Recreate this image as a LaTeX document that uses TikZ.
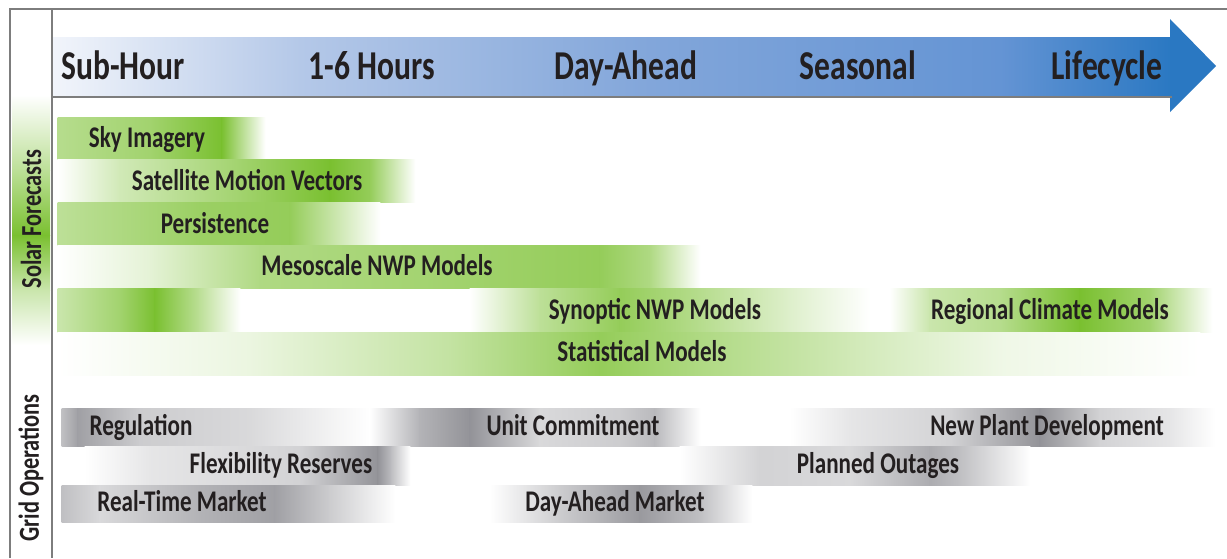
\documentclass[tikz,border=0pt]{standalone}
\usepackage{fontspec}
\newfontfamily\cf[FakeStretch=0.77]{Carlito}
\definecolor{G}{RGB}{122,192,48}
\definecolor{K}{RGB}{128,128,134}
\definecolor{txt}{RGB}{35,31,32}
\definecolor{frame}{RGB}{125,125,125}
\definecolor{B0}{RGB}{242,245,251}
\definecolor{B1}{RGB}{180,200,232}
\definecolor{B2}{RGB}{130,166,218}
\definecolor{B3}{RGB}{100,148,212}
\definecolor{B4}{RGB}{42,120,194}
\newcommand\gbar[3]{\foreach \x/\c [count=\i, remember=\x as \px, remember=\c as \pc] in {#3}{\ifnum\i>1 \shade[left color=\pc,right color=\c] (\px-0.4,#1) rectangle (\x+0.4,#2);\fi}}
\begin{document}
\begin{tikzpicture}[x=1pt,y=-1pt,
  lab/.style={font=\cf\bfseries\fontsize{30}{30}\selectfont, text=txt, inner sep=0pt, anchor=base},
  head/.style={font=\cf\bfseries\fontsize{41}{41}\selectfont, text=txt, inner sep=0pt, anchor=base},
  side/.style={font=\cf\bfseries\fontsize{29}{29}\selectfont, text=txt, inner sep=0pt, rotate=90},
  frameline/.style={draw=frame, line width=1.8pt}]
\useasboundingbox (0,0) rectangle (1227,558);
\fill[white] (0,0) rectangle (1227,558);
% left column green
\shade[top color=white, bottom color=G!50] (12,95) rectangle (50,170.4);
\shade[top color=G!50, bottom color=G] (12,170) rectangle (50,235.4);
\shade[top color=G, bottom color=G!40] (12,235) rectangle (50,290.4);
\shade[top color=G!40, bottom color=white] (12,290) rectangle (50,345);
% arrow
\gbar{37}{96}{52/B0, 300/B1, 650/B2, 1000/B3, 1172/B4}
\fill[B4] (1170,19) -- (1216,66) -- (1170,112) -- cycle;
% solar forecast bars
\gbar{117}{159}{58/G!55, 150/G!70, 222/G, 265/white}
\gbar{159}{202}{58/white, 120/G!35, 240/G!70, 330/G, 370/G!80, 415/white}
\gbar{202}{245}{58/G!50, 200/G!75, 290/G!80, 380/white}
\gbar{245}{288}{58/white, 150/G!20, 260/G!60, 450/G!70, 600/G!80, 650/G!60, 700/white}
\gbar{288}{332}{58/G!40, 120/G!70, 155/G, 200/G!50, 240/white}
\gbar{288}{332}{470/white, 540/G!50, 620/G!80, 700/G!55, 790/G!25, 870/white}
\gbar{288}{332}{890/white, 930/G!40, 1000/G!55, 1080/G, 1150/G!70, 1212/white}
\gbar{332}{375}{58/white, 250/G!15, 450/G!45, 600/G!80, 700/G!60, 850/G!35, 1000/G!12, 1200/white}
% grid operation bars
\gbar{408}{446}{62/K!50, 78/K!75, 140/K!40, 250/K!30, 330/K!10, 370/white, 420/K!60, 470/K!85, 540/K!30, 620/K!40, 655/K!55, 700/white}
\gbar{408}{446}{790/white, 850/K!20, 950/K!35, 1040/K!85, 1100/K!35, 1170/K!20, 1215/white}
\gbar{446}{485}{85/white, 150/K!20, 300/K!35, 378/K!85, 392/K!50, 410/white}
\gbar{446}{485}{680/white, 760/K!35, 850/K!30, 930/K!65, 960/K!50, 1030/white}
\gbar{485}{522}{62/K!50, 100/K!30, 200/K!60, 275/K!75, 330/K!40, 395/white}
\gbar{485}{522}{490/white, 560/K!40, 640/K!80, 700/K!50, 752/white}
% frame
\coordinate (tl) at (10,9);
\coordinate (tr) at (1227,9);
\coordinate (bl) at (10,558);
\coordinate (ct) at (52,9);
\coordinate (cb) at (52,558);
\coordinate (hl) at (52,97);
\coordinate (hr) at (1172,97);
\draw[frameline] (bl) -- (tl) -- (tr);
\draw[frameline] (ct) -- (cb);
\draw[draw=frame, line width=2.5pt] (hl) -- (hr);
% header labels
\node[head] (h1) at (123,79) {Sub-Hour};
\node[head] (h2) at (372,79) {1-6 Hours};
\node[head] (h3) at (626,79) {Day-Ahead};
\node[head] (h4) at (858,79) {Seasonal};
\node[head] (h5) at (1107,79) {Lifecycle};
% side labels
\node[side] (s1) at (31,219) {Solar Forecasts};
\node[side] (s2) at (31,468) {Grid Operations};
% bar labels
\node[lab] (b1) at (147,147) {Sky Imagery};
\node[lab] (b2) at (247,190) {Satellite Motion Vectors};
\node[lab] (b3) at (215,233) {Persistence};
\node[lab] (b4) at (377,275) {Mesoscale NWP Models};
\node[lab] (b5) at (655,319) {Synoptic NWP Models};
\node[lab] (b6) at (1050,319) {Regional Climate Models};
\node[lab] (b7) at (642,361) {Statistical Models};
\node[lab] (g1) at (141,435) {Regulation};
\node[lab] (g2) at (573,435) {Unit Commitment};
\node[lab] (g3) at (1047,435) {New Plant Development};
\node[lab] (g4) at (281,473) {Flexibility Reserves};
\node[lab] (g5) at (878,473) {Planned Outages};
\node[lab] (g6) at (182,511) {Real-Time Market};
\node[lab] (g7) at (615,511) {Day-Ahead Market};
\end{tikzpicture}
\end{document}
